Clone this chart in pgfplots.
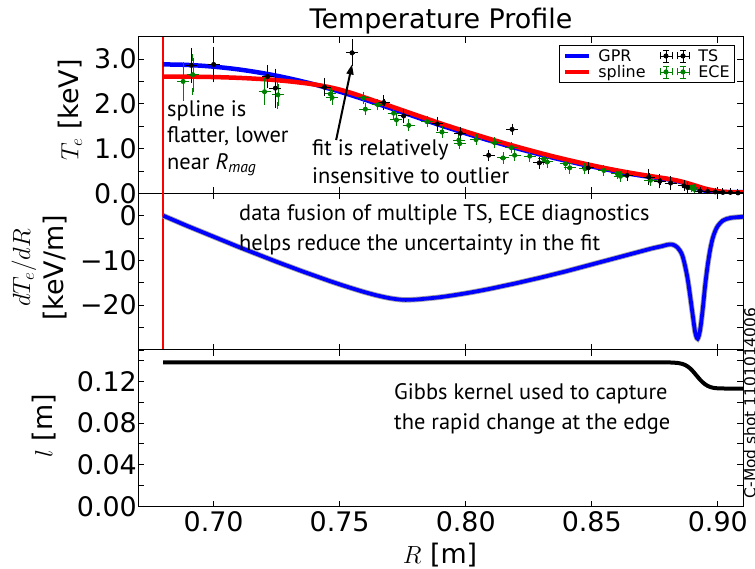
\documentclass[border=0pt]{standalone}
\usepackage{fontspec}
\setmainfont{DejaVu Sans}
\newfontfamily\annfont{PT Sans}
\usepackage{pgfplots}
\pgfplotsset{compat=1.18}
\usetikzlibrary{arrows.meta}
\definecolor{mplgreen}{rgb}{0,0.5,0}
\definecolor{mplblue}{rgb}{0,0,1}
\definecolor{mplred}{rgb}{1,0,0}
\pgfplotsset{
  panel/.style={
    scale only axis, width=605bp, height=156.6bp, anchor=north west,
    xmin=0.67, xmax=0.91, xtick={0.70,0.75,0.80,0.85,0.90},
    xtick pos=both, ytick pos=both, xticklabel pos=lower, yticklabel pos=left,
    tick align=inside, major tick length=6bp,
    axis line style={line width=1bp},
    every tick/.style={black, line width=0.8bp},
    tick label style={font=\fontsize{27}{29}\selectfont},
    yticklabel style={inner sep=1bp},
    xticklabel style={inner sep=1bp, yshift=-4bp},
    /pgf/number format/assume math mode=true,
  },
  databar/.style={only marks, mark=*, mark size=2bp, line width=1bp,
    error bars/x dir=both, error bars/x explicit, error bars/y dir=both, error bars/y explicit,
    error bars/error mark options={line width=1bp, mark size=3.5bp}},
  gprleg/.style={legend image code/.code={\draw[mplblue, line width=4.5bp] (0bp,0bp) -- (24bp,0bp);}},
  splleg/.style={legend image code/.code={\draw[mplred, line width=4.5bp] (0bp,0bp) -- (24bp,0bp);}},
  tsleg/.style={legend image code/.code={
    \draw[black, line width=0.8bp] (0bp,0bp) -- (12bp,0bp) (0bp,-3.5bp) -- (0bp,3.5bp) (12bp,-3.5bp) -- (12bp,3.5bp)
       (6bp,-6bp) -- (6bp,6bp) (3bp,-6bp) -- (9bp,-6bp) (3bp,6bp) -- (9bp,6bp);
    \fill[black] (6bp,0bp) circle (2bp);
    \draw[black, line width=0.8bp] (17bp,0bp) -- (29bp,0bp) (17bp,-3.5bp) -- (17bp,3.5bp) (29bp,-3.5bp) -- (29bp,3.5bp)
       (23bp,-6bp) -- (23bp,6bp) (20bp,-6bp) -- (26bp,-6bp) (20bp,6bp) -- (26bp,6bp);
    \fill[black] (23bp,0bp) circle (2bp);}},
  eceleg/.style={legend image code/.code={
    \draw[mplgreen, line width=0.8bp] (0bp,0bp) -- (12bp,0bp) (0bp,-3.5bp) -- (0bp,3.5bp) (12bp,-3.5bp) -- (12bp,3.5bp)
       (6bp,-6bp) -- (6bp,6bp) (3bp,-6bp) -- (9bp,-6bp) (3bp,6bp) -- (9bp,6bp);
    \fill[mplgreen] (6bp,0bp) circle (2bp);
    \draw[mplgreen, line width=0.8bp] (17bp,0bp) -- (29bp,0bp) (17bp,-3.5bp) -- (17bp,3.5bp) (29bp,-3.5bp) -- (29bp,3.5bp)
       (23bp,-6bp) -- (23bp,6bp) (20bp,-6bp) -- (26bp,-6bp) (20bp,6bp) -- (26bp,6bp);
    \fill[mplgreen] (23bp,0bp) circle (2bp);}},
}
\pgfplotstableread{
R d
0.680 0.0
0.685 -1.2
0.690 -2.4
0.695 -3.55
0.700 -4.7
0.705 -5.85
0.710 -7.0
0.715 -8.1
0.720 -9.2
0.725 -10.3
0.730 -11.35
0.735 -12.4
0.740 -13.4
0.745 -14.4
0.750 -15.35
0.755 -16.25
0.760 -17.1
0.765 -17.85
0.770 -18.45
0.775 -18.8
0.780 -18.75
0.785 -18.5
0.790 -18.2
0.795 -17.8
0.800 -17.35
0.805 -16.85
0.810 -16.3
0.815 -15.7
0.820 -15.1
0.825 -14.45
0.830 -13.8
0.835 -13.1
0.840 -12.4
0.845 -11.65
0.850 -10.9
0.855 -10.15
0.860 -9.4
0.865 -8.65
0.870 -7.9
0.874 -7.3
0.878 -6.8
0.880 -6.5
0.882 -6.45
0.884 -7.1
0.886 -9.0
0.888 -14.0
0.890 -22.0
0.891 -26.0
0.892 -27.5
0.893 -25.5
0.894 -21.0
0.895 -15.5
0.896 -11.0
0.897 -7.5
0.898 -5.0
0.899 -3.4
0.900 -2.3
0.902 -1.1
0.905 -0.5
0.910 -0.25
}\dTdR
\begin{document}
\begin{tikzpicture}
\path[use as bounding box] (0,0) rectangle (755bp,-569bp);

% ---------------- top panel ----------------
\begin{axis}[panel, at={(138bp,-36.7bp)},
  ymin=0, ymax=3.5, ytick={0,0.5,1,1.5,2,2.5,3,3.5},
  yticklabels={0.0,,1.0,,2.0,,3.0,}, xticklabels={},
  legend columns=2,
  legend style={at={(0.987,0.945)}, anchor=north east, draw=black, line width=1bp,
    font=\fontsize{16}{18}\selectfont, inner xsep=3bp, inner ysep=1.5bp, row sep=-1.5bp,
    /tikz/every even column/.append style={column sep=12bp}},
  legend cell align=left]
\addlegendimage{gprleg}
\addlegendentry{\hspace{5bp}GPR}
\addlegendimage{tsleg}
\addlegendentry{\hspace{7bp}TS}
\addlegendimage{splleg}
\addlegendentry{\hspace{5bp}spline}
\addlegendimage{eceleg}
\addlegendentry{\hspace{7bp}ECE}

\addplot[mplred, line width=1.5bp, forget plot] coordinates {(0.68,0) (0.68,3.5)};

% GPR fit
\addplot[mplblue, line width=4.5bp, forget plot, smooth] table {
R T
0.680 2.880
0.685 2.877
0.690 2.868
0.695 2.852
0.700 2.830
0.705 2.802
0.710 2.768
0.715 2.727
0.720 2.680
0.725 2.627
0.730 2.568
0.735 2.503
0.740 2.433
0.745 2.355
0.750 2.272
0.755 2.185
0.760 2.094
0.765 2.000
0.770 1.905
0.775 1.810
0.780 1.712
0.785 1.615
0.790 1.520
0.795 1.430
0.800 1.340
0.805 1.255
0.810 1.170
0.815 1.090
0.820 1.010
0.825 0.935
0.830 0.860
0.835 0.790
0.840 0.725
0.845 0.660
0.850 0.600
0.855 0.542
0.860 0.487
0.865 0.437
0.870 0.392
0.875 0.352
0.880 0.315
0.882 0.296
0.884 0.272
0.886 0.242
0.888 0.204
0.890 0.158
0.892 0.110
0.894 0.072
0.896 0.048
0.898 0.036
0.900 0.030
0.905 0.025
0.910 0.024
};
% spline fit
\addplot[mplred, line width=4.5bp, forget plot, smooth] table {
R T
0.680 2.610
0.690 2.607
0.700 2.598
0.710 2.580
0.720 2.550
0.725 2.528
0.730 2.502
0.735 2.470
0.740 2.432
0.745 2.382
0.750 2.318
0.755 2.236
0.760 2.140
0.765 2.045
0.770 1.950
0.775 1.853
0.780 1.755
0.785 1.658
0.790 1.562
0.795 1.470
0.800 1.380
0.805 1.293
0.810 1.207
0.815 1.125
0.820 1.045
0.825 0.968
0.830 0.893
0.835 0.821
0.840 0.753
0.845 0.688
0.850 0.626
0.855 0.567
0.860 0.512
0.865 0.461
0.870 0.414
0.875 0.370
0.880 0.326
0.885 0.272
0.890 0.192
0.895 0.105
0.900 0.048
0.905 0.024
0.910 0.018
};
% ECE data
\addplot[mplgreen, databar, forget plot] table[x=x, y=y, x error=ex, y error=ey] {
x y ex ey
0.6879 2.50 0.001 0.35
0.6917 2.65 0.001 0.38
0.7202 2.27 0.001 0.22
0.7255 2.20 0.001 0.24
0.7463 2.22 0.001 0.08
0.7470 2.14 0.001 0.08
0.7595 2.13 0.001 0.06
0.7602 1.88 0.001 0.06
0.7652 1.98 0.001 0.05
0.7714 1.79 0.001 0.05
0.7725 1.64 0.001 0.05
0.7774 1.52 0.001 0.06
0.7847 1.60 0.001 0.05
0.7906 1.37 0.001 0.05
0.7973 1.19 0.001 0.05
0.7976 1.11 0.001 0.05
0.8041 1.20 0.001 0.05
0.8115 1.13 0.001 0.05
0.8148 0.79 0.001 0.05
0.8181 1.02 0.001 0.05
0.8194 0.85 0.001 0.05
0.8254 0.83 0.001 0.05
0.8310 0.77 0.001 0.05
0.8323 0.70 0.001 0.05
0.8396 0.66 0.001 0.05
0.8413 0.57 0.001 0.05
0.8473 0.55 0.001 0.05
0.8548 0.51 0.001 0.04
0.8601 0.44 0.001 0.04
0.8614 0.38 0.001 0.04
0.8733 0.29 0.001 0.04
0.8896 0.14 0.001 0.03
0.8906 0.09 0.001 0.03
};
% TS data
\addplot[black, databar, forget plot] table[x=x, y=y, x error=ex, y error=ey] {
x y ex ey
0.6912 2.86 0.001 0.31
0.7000 2.88 0.001 0.32
0.7214 2.61 0.001 0.17
0.7245 2.35 0.001 0.36
0.7440 2.37 0.001 0.12
0.7549 3.14 0.001 0.22
0.7675 2.03 0.001 0.08
0.7754 1.73 0.001 0.07
0.7887 1.55 0.001 0.07
0.7979 1.34 0.001 0.07
0.8091 0.85 0.001 0.05
0.8184 1.43 0.001 0.05
0.8292 0.68 0.001 0.05
0.8486 0.57 0.001 0.05
0.8640 0.40 0.001 0.05
0.8726 0.36 0.001 0.10
0.8770 0.27 0.001 0.08
0.8813 0.23 0.001 0.08
0.8866 0.17 0.001 0.04
0.8880 0.13 0.001 0.04
0.8930 0.05 0.001 0.02
0.8960 0.04 0.001 0.02
0.8990 0.03 0.001 0.02
0.9020 0.02 0.001 0.01
0.9050 0.02 0.001 0.01
0.9080 0.01 0.001 0.01
};
\draw[black, line width=2bp, -{Triangle[length=10bp,width=7bp]}] (axis cs:0.7486,1.19) -- (axis cs:0.7549,2.88);
\end{axis}

% ---------------- middle panel ----------------
\begin{axis}[panel, at={(138bp,-193.3bp)},
  ymin=-30, ymax=5, ytick={-30,-25,-20,-15,-10,-5,0,5},
  yticklabels={,,−20,,−10,,0,}, xticklabels={}]
\addplot[mplred, line width=1.5bp] coordinates {(0.68,-30) (0.68,5)};
\addplot[gray!70, line width=5.5bp, smooth] table {\dTdR};
\addplot[mplblue, line width=3.8bp, smooth] table {\dTdR};
\end{axis}

% ---------------- bottom panel ----------------
\begin{axis}[panel, at={(138bp,-349.9bp)},
  ymin=0, ymax=0.15, ytick={0,0.02,0.04,0.06,0.08,0.10,0.12,0.14},
  yticklabels={0.00,,0.04,,0.08,,0.12,},
  xticklabels={0.70,0.75,0.80,0.85,0.90}]
\addplot[black, line width=4bp, line join=round] table {
R l
0.680 0.1380
0.880 0.1380
0.882 0.1379
0.884 0.1375
0.885 0.1371
0.886 0.1365
0.887 0.1356
0.888 0.1342
0.889 0.1323
0.890 0.1299
0.891 0.1271
0.892 0.1242
0.893 0.1214
0.894 0.1190
0.895 0.1170
0.896 0.1155
0.897 0.1145
0.898 0.1138
0.899 0.1134
0.900 0.1132
0.903 0.1130
0.910 0.1130
};
\end{axis}

% ---------------- texts ----------------
\node[anchor=base, font=\fontsize{27}{29}\selectfont] at (441bp,-28bp) {Temperature Profile};
\node[rotate=90, font=\fontsize{27}{29}\selectfont] at (70bp,-110bp) {$T_e$ [keV]};
\node[rotate=90, font=\fontsize{27}{29}\selectfont] at (24bp,-268bp) {$dT_e/dR$};
\node[rotate=90, font=\fontsize{27}{29}\selectfont] at (55bp,-268bp) {[keV/m]};
\node[rotate=90, font=\fontsize{27}{29}\selectfont] at (44bp,-426bp) {$l$ [m]};
\node[font=\fontsize{27}{29}\selectfont] at (440bp,-555bp) {$R$ [m]};
\node[rotate=90, anchor=south, inner sep=0pt, font=\fontsize{15.5}{17}\selectfont] at (756bp,-403bp) {C-Mod shot 1101014006};

\node[anchor=west, align=left, font=\annfont\fontsize{22.5}{26.7}\selectfont, inner sep=0pt] at (167bp,-138bp)
  {spline is\\ flatter, lower\\ near \textit{R}\textsubscript{\textit{mag}}};
\node[anchor=west, align=left, font=\annfont\fontsize{22.5}{28}\selectfont, inner sep=0pt] at (312bp,-162bp)
  {fit is relatively\\ insensitive to outlier};
\node[anchor=west, align=left, font=\annfont\fontsize{22.5}{30}\selectfont, inner sep=0pt] at (239bp,-230bp)
  {data fusion of multiple TS, ECE diagnostics\\ helps reduce the uncertainty in the fit};
\node[anchor=west, align=left, font=\annfont\fontsize{22.5}{29.5}\selectfont, inner sep=0pt] at (394bp,-409bp)
  {Gibbs kernel used to capture\\ the rapid change at the edge};
\end{tikzpicture}
\end{document}
